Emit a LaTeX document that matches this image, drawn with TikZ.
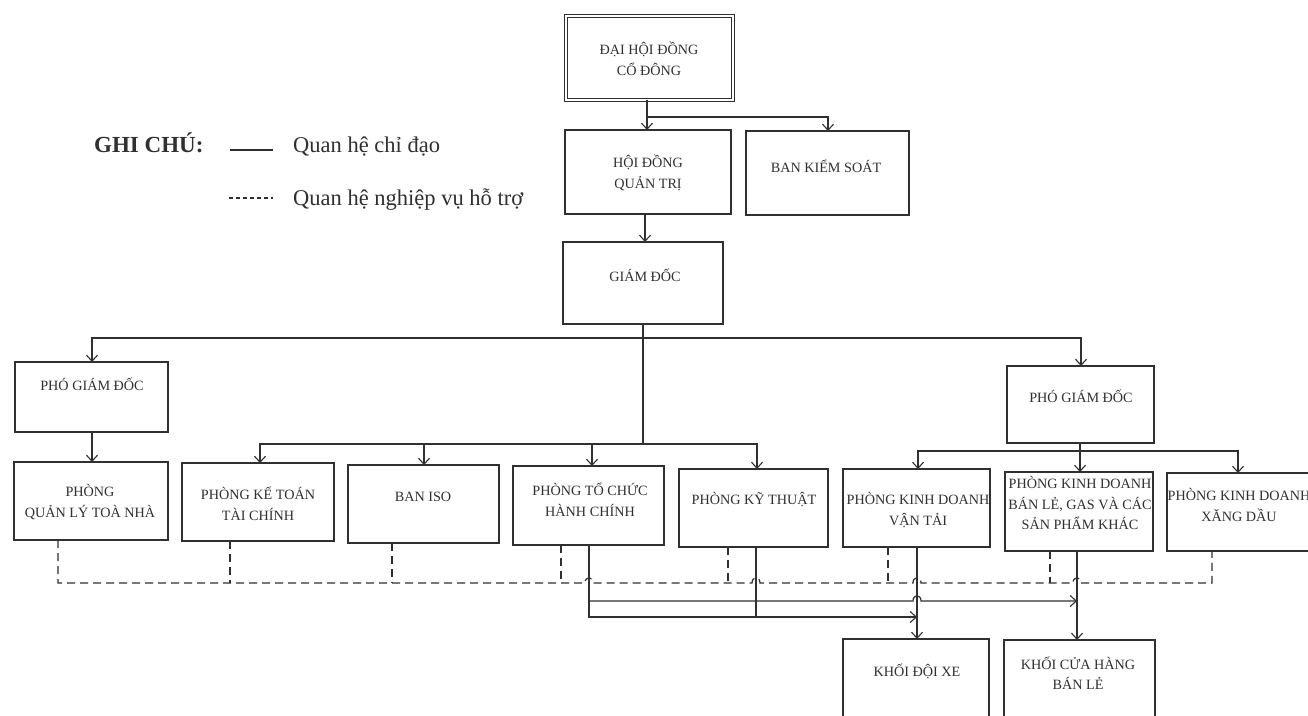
\documentclass[tikz,border=0pt]{standalone}
\usepackage{fontspec}
\setmainfont{Liberation Serif}
\usetikzlibrary{arrows.meta}
\definecolor{ink}{HTML}{303030}
\begin{document}
\begin{tikzpicture}[x=1pt,y=-1pt,
  box/.style={draw=ink,line width=1.3pt,anchor=north west,inner sep=0pt,outer sep=0pt},
  lbl/.style={text=ink,align=center,inner sep=0pt,font=\fontsize{14.2}{20.5}\selectfont},
  leg/.style={text=ink,inner sep=0pt,anchor=base west,font=\fontsize{22.5}{26}\selectfont},
  conn/.style={draw=ink,line width=1.2pt},
  arr/.style={conn,-{Straight Barb[length=6pt,width=11pt,line width=1.1pt]}},
  dsh/.style={draw=ink,line width=1.2pt,dash pattern=on 8pt off 5pt},
]
\fill[white] (0,0) rectangle (1308,715);
\useasboundingbox (0,0) rectangle (1308,715);

% ---------- boxes ----------
\node[box,double=white,double distance=2pt,minimum width=167pt,minimum height=84pt] (dh) at (566,16) {};
\node[box,minimum width=166pt,minimum height=84pt] (hd) at (565,130) {};
\node[box,minimum width=163pt,minimum height=84pt] (bks) at (746,131) {};
\node[box,minimum width=160pt,minimum height=82pt] (gd) at (563,242) {};
\node[box,minimum width=153pt,minimum height=70pt] (pg1) at (15,362) {};
\node[box,minimum width=147pt,minimum height=77pt] (pg2) at (1007,366) {};
\node[box,minimum width=154pt,minimum height=78pt] (ql) at (14,462) {};
\node[box,minimum width=152pt,minimum height=78pt] (ktc) at (182,463) {};
\node[box,minimum width=151pt,minimum height=78pt] (iso) at (348,465) {};
\node[box,minimum width=151pt,minimum height=79pt] (tc) at (513,466) {};
\node[box,minimum width=149pt,minimum height=78pt] (ky) at (679,469) {};
\node[box,minimum width=147pt,minimum height=78pt] (vt) at (843,469) {};
\node[box,minimum width=148pt,minimum height=79pt] (bl) at (1005,472) {};
\node[box,minimum width=150pt,minimum height=78pt] (xd) at (1167,473) {};
\node[box,minimum width=146pt,minimum height=90pt] (kx) at (843,639) {};
\node[box,minimum width=151pt,minimum height=90pt] (kc) at (1004,640) {};

% ---------- labels ----------
\node[lbl] (tdh) at (649,59) {ĐẠI HỘI ĐỒNG\\CỔ ĐÔNG};
\node[lbl] (thd) at (648,173) {HỘI ĐỒNG\\QUẢN TRỊ};
\node[lbl] (tbks) at (826,166) {BAN KIỂM SOÁT};
\node[lbl] (tgd) at (645,275) {GIÁM ĐỐC};
\node[lbl] (tpg1) at (92,384) {PHÓ GIÁM ĐỐC};
\node[lbl] (tpg2) at (1081,396) {PHÓ GIÁM ĐỐC};
\node[lbl] (tql) at (90,502) {PHÒNG\\QUẢN LÝ TOÀ NHÀ};
\node[lbl] (tktc) at (258,504) {PHÒNG KẾ TOÁN\\TÀI CHÍNH};
\node[lbl] (tiso) at (423,497) {BAN ISO};
\node[lbl] (ttc) at (590,500) {PHÒNG TỔ CHỨC\\HÀNH CHÍNH};
\node[lbl] (tky) at (754,500) {PHÒNG KỸ THUẬT};
\node[lbl] (tvt) at (918,510) {PHÒNG KINH DOANH\\VẬN TẢI};
\node[lbl] (tbl) at (1080,503) {PHÒNG KINH DOANH\\BÁN LẺ, GAS VÀ CÁC\\SẢN PHẨM KHÁC};
\node[lbl] (txd) at (1239,505) {PHÒNG KINH DOANH\\XĂNG DẦU};
\node[lbl] (tkx) at (917,671) {KHỐI ĐỘI XE};
\node[lbl] (tkc) at (1078,673) {KHỐI CỬA HÀNG\\BÁN LẺ};

% ---------- legend ----------
\node[leg,font=\fontsize{23}{26}\bfseries\selectfont] (gc) at (94,152) {GHI CHÚ:};
\coordinate (s1) at (230,150); \coordinate (s2) at (273,150);
\draw[conn] (s1) -- (s2);
\node[leg] (l1) at (293,152) {Quan hệ chỉ đạo};
\coordinate (d1) at (229,198); \coordinate (d2) at (273,198);
\draw[conn,dash pattern=on 4pt off 3pt] (d1) -- (d2);
\node[leg] (l2) at (293,205) {Quan hệ nghiệp vụ hỗ trợ};

% ---------- solid hierarchy ----------
\draw[arr] (647,0 |- dh.south) -- (647,0 |- hd.north);
\draw[arr] (647,0 |- dh.south) |- (828,117) -- (828,0 |- bks.north);
\draw[arr] (645,0 |- hd.south) -- (645,0 |- gd.north);
\draw[conn] (643,0 |- gd.south) -- (643,444);
\draw[arr] (643,338) -| (92,0 |- pg1.north);
\draw[arr] (643,338) -| (1081,0 |- pg2.north);
\draw[arr] (92,0 |- pg1.south) -- (92,0 |- ql.north);
\draw[arr] (643,444) -| (260,0 |- ktc.north);
\draw[arr] (424,444) -- (424,0 |- iso.north);
\draw[arr] (592,444) -- (592,0 |- tc.north);
\draw[arr] (643,444) -| (757,0 |- ky.north);
\draw[arr] (1080,0 |- pg2.south) -- (1080,0 |- bl.north);
\draw[arr] (1080,451) -| (918,0 |- vt.north);
\draw[arr] (1080,451) -| (1238,0 |- xd.north);

% ---------- lower solid links ----------
\draw[arr] (589,0 |- tc.south) -- (589,617) -- (917,617);
\draw[arr] (589,601) -- (913,601) .. controls (913,594) and (921,594) .. (921,601) -- (1077,601);
\draw[conn] (756,0 |- ky.south) -- (756,617);
\draw[arr] (917,0 |- vt.south) -- (917,0 |- kx.north);
\draw[arr] (1077,0 |- bl.south) -- (1077,0 |- kc.north);

% ---------- dashed support network ----------
\draw[dsh] (58,0 |- ql.south) -- (58,583) -- (585,583)
  .. controls (585,576) and (593,576) .. (593,583) -- (752,583)
  .. controls (752,576) and (760,576) .. (760,583) -- (913,583)
  .. controls (913,576) and (921,576) .. (921,583) -- (1073,583)
  .. controls (1073,576) and (1081,576) .. (1081,583) -- (1212,583)
  -- (1212,0 |- xd.south);
\draw[dsh] (230,0 |- ktc.south) -- (230,583);
\draw[dsh] (392,0 |- iso.south) -- (392,583);
\draw[dsh] (561,0 |- tc.south) -- (561,583);
\draw[dsh] (728,0 |- ky.south) -- (728,583);
\draw[dsh] (888,0 |- vt.south) -- (888,583);
\draw[dsh] (1050,0 |- bl.south) -- (1050,583);
\end{tikzpicture}
\end{document}
